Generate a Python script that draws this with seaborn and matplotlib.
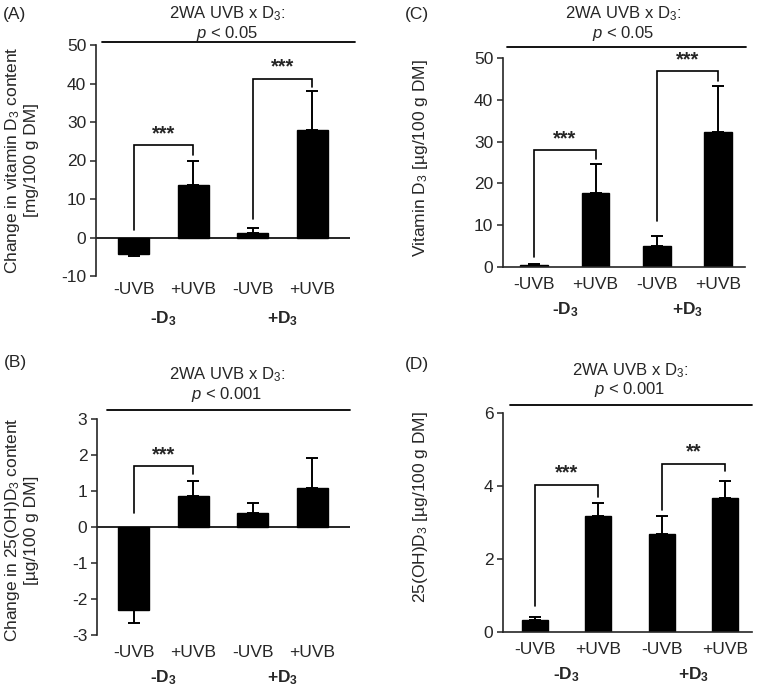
import matplotlib
matplotlib.use("Agg")
import matplotlib.pyplot as plt
from matplotlib.lines import Line2D
import seaborn as sns
import pandas as pd

sns.set_theme(style="ticks")
plt.rcParams['font.family'] = ['Liberation Sans', 'DejaVu Sans']
plt.rcParams['mathtext.fontset'] = 'custom'
plt.rcParams['mathtext.rm'] = 'Liberation Sans'
plt.rcParams['mathtext.it'] = 'Liberation Sans:italic'
plt.rcParams['mathtext.bf'] = 'Liberation Sans:bold'
plt.rcParams['axes.unicode_minus'] = False

# ---------------- data ----------------
conditions = ["-UVB/-D3", "+UVB/-D3", "-UVB/+D3", "+UVB/+D3"]
tick_labels = ["-UVB", "+UVB", "-UVB", "+UVB"]
d3_labels = ["-D$_\\mathbf{3}$", "+D$_\\mathbf{3}$"]

a_mean = [-4.2, 13.7, 1.1, 27.8]
a_err = [0.7, 6.1, 1.3, 10.2]
c_mean = [0.55, 17.7, 5.1, 32.4]
c_err = [0.1, 6.9, 2.2, 10.8]
b_mean = [-2.30, 0.85, 0.39, 1.07]
b_err = [0.37, 0.42, 0.28, 0.86]
d_mean = [0.34, 3.19, 2.68, 3.66]
d_err = [0.07, 0.34, 0.50, 0.49]

# brackets: (left bar, right bar, left start, top, right end, label)
a_brackets = [(0, 1, 2.0, 23.9, 21.3, "***"), (2, 3, 4.9, 41.2, 39.0, "***")]
c_brackets = [(0, 1, 2.5, 27.9, 25.8, "***"), (2, 3, 10.9, 46.8, 44.4, "***")]
b_brackets = [(0, 1, 0.38, 1.69, 1.46, "***")]
d_brackets = [(0, 1, 0.71, 4.03, 3.69, "***"), (2, 3, 3.34, 4.61, 4.40, "**")]

interaction = ["$p$ < 0.05", "$p$ < 0.05", "$p$ < 0.001", "$p$ < 0.001"]

W, H = 760, 691
fig = plt.figure(figsize=(W / 100, H / 100), dpi=100)


def fx(x):
    return x / W


def fy(y):
    return 1 - y / H


def make_axes(left, right, top, bottom):
    return fig.add_axes([fx(left), fy(bottom), fx(right) - fx(left), fy(top) - fy(bottom)])


def panel(ax, mean, err, width, xlim, ylim, yticks, brackets, zero_line, pad):
    df = pd.DataFrame({"cond": conditions, "val": mean})
    sns.barplot(data=df, x="cond", y="val", order=conditions, color="black",
                saturation=1, width=width, errorbar=None, ax=ax, edgecolor="black")
    lower = [e if m < 0 else 0 for m, e in zip(mean, err)]
    upper = [e if m >= 0 else 0 for m, e in zip(mean, err)]
    ax.errorbar(range(4), mean, yerr=[lower, upper], fmt="none", ecolor="black",
                elinewidth=1.4, capsize=4.5, capthick=1.4)
    for (i, j, ys, yt, ye, lab) in brackets:
        ax.plot([i, i, j, j], [ys, yt, yt, ye], color="black", lw=1.2,
                solid_joinstyle="miter")
        ax.annotate(lab, xy=((i + j) / 2, yt), xytext=(0, 1.5), textcoords="offset points",
                    ha="center", va="bottom", fontsize=14.5, fontweight="bold")
    ax.set_xlim(*xlim)
    ax.set_ylim(*ylim)
    ax.set_yticks(yticks)
    ax.set_xticks(range(4))
    ax.set_xticklabels(tick_labels, fontsize=12.5)
    ax.tick_params(axis="x", length=0, pad=pad)
    ax.tick_params(axis="y", labelsize=12.5, length=4, width=1.1, direction="out", pad=3)
    ax.set_xlabel("")
    ax.set_ylabel("")
    for s in ["top", "right"]:
        ax.spines[s].set_visible(False)
    ax.spines["left"].set_linewidth(1.2)
    if zero_line:
        ax.spines["bottom"].set_visible(False)
        ax.axhline(0, color="black", lw=1.2, zorder=1)
    else:
        ax.spines["bottom"].set_linewidth(1.2)
    for k, lab in enumerate(d3_labels):
        ax.annotate(lab, xy=(2 * k + 0.5, 0), xycoords=("data", "axes fraction"),
                    xytext=(0, -31), textcoords="offset points", ha="center",
                    va="center", fontsize=12.5, fontweight="bold")


# Panel A
axA = make_axes(96, 350, 45, 276)
panel(axA, a_mean, a_err, 0.52, (-0.63, 3.63), (-10, 50), range(-10, 51, 10),
      a_brackets, True, 4)
# Panel C
axC = make_axes(503, 745, 58, 267)
panel(axC, c_mean, c_err, 0.45, (-0.51, 3.44), (0, 50), range(0, 51, 10),
      c_brackets, False, 7)
# Panel B
axB = make_axes(97, 350, 419, 635)
panel(axB, b_mean, b_err, 0.52, (-0.62, 3.63), (-3, 3), range(-3, 4, 1),
      b_brackets, True, 7)
# Panel D
axD = make_axes(503, 752, 413, 632)
panel(axD, d_mean, d_err, 0.41, (-0.50, 3.42), (0, 6), range(0, 7, 2),
      d_brackets, False, 7)

# titles and interaction lines: (center x, center y of two-line block, line y, x0, x1)
titles = [(227, 23.5, 42, 102, 355), (623, 23.5, 47, 507, 746),
          (227, 385, 410, 107, 350), (630, 380, 405, 510, 752)]
for (cx, cy, yl, x0, x1), ptxt in zip(titles, interaction):
    fig.text(fx(cx), fy(cy), "2WA UVB x D$_3$:\n" + ptxt, ha="center", va="center",
             fontsize=12, multialignment="center", linespacing=1.05)
    fig.add_artist(Line2D([fx(x0), fx(x1)], [fy(yl), fy(yl)], transform=fig.transFigure,
                          color="black", lw=1.3))

# panel letters
for lab, x, y in [("(A)", 15, 14), ("(C)", 417, 14), ("(B)", 15, 363), ("(D)", 417, 365)]:
    fig.text(fx(x), fy(y), lab, ha="center", va="center", fontsize=12.5)

# y labels
fig.text(fx(21), fy(160), "Change in vitamin D$_3$ content\n[mg/100 g DM]", rotation=90,
         ha="center", va="center", fontsize=12.5, multialignment="center", linespacing=1.1)
fig.text(fx(21), fy(530), "Change in 25(OH)D$_3$ content\n[µg/100 g DM]", rotation=90,
         ha="center", va="center", fontsize=12.5, multialignment="center", linespacing=1.1)
fig.text(fx(420), fy(158), "Vitamin D$_3$ [µg/100 g DM]", rotation=90,
         ha="center", va="center", fontsize=12.5)
fig.text(fx(420), fy(507), "25(OH)D$_3$ [µg/100 g DM]", rotation=90,
         ha="center", va="center", fontsize=12.5)

fig.savefig("out.png", dpi=100)
